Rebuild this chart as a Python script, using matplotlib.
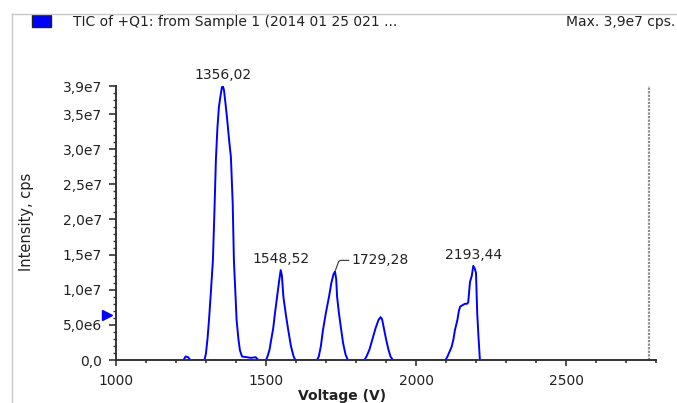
import numpy as np
import matplotlib
matplotlib.use("Agg")
import matplotlib.pyplot as plt
from matplotlib.ticker import FixedLocator, MultipleLocator
from matplotlib.patches import Rectangle
from matplotlib.lines import Line2D
import matplotlib.transforms as mtransforms

# TIC trace (voltage in V, intensity in 1e7 cps)
voltage = [1225, 1232, 1240, 1248, 1295, 1300, 1305, 1310, 1316, 1323, 1328, 1333,
           1338, 1343, 1348, 1353, 1356, 1360, 1365, 1370, 1377, 1383, 1389, 1393,
           1398, 1402, 1408, 1413, 1420, 1436, 1450, 1465, 1475, 1500,
           1505, 1512, 1517, 1524, 1530, 1537, 1543, 1549, 1553, 1558, 1566, 1574,
           1583, 1592, 1598, 1670,
           1676, 1683, 1690, 1700, 1710, 1718, 1725, 1730, 1734, 1737, 1743, 1750,
           1757, 1765, 1773, 1828,
           1835, 1845, 1855, 1865, 1875, 1882, 1887, 1893, 1900, 1908, 1915, 1923, 2098,
           2105, 2112, 2119, 2125, 2130, 2138, 2143, 2147, 2155, 2163, 2170, 2174,
           2180, 2186, 2191, 2196, 2200, 2204, 2208, 2211, 2213]
intensity = [0, 0.05, 0.04, 0, 0, 0.1, 0.3, 0.57, 0.95, 1.42, 2.1, 2.85,
             3.3, 3.6, 3.75, 3.88, 3.9, 3.84, 3.65, 3.45, 3.13, 2.89, 2.23, 1.42,
             0.95, 0.57, 0.3, 0.14, 0.05, 0.04, 0.03, 0.04, 0, 0,
             0.05, 0.15, 0.28, 0.45, 0.67, 0.9, 1.1, 1.28, 1.2, 0.9, 0.65, 0.43,
             0.2, 0.05, 0, 0,
             0.05, 0.2, 0.43, 0.68, 0.9, 1.1, 1.22, 1.26, 1.15, 0.9, 0.67, 0.45,
             0.24, 0.08, 0, 0,
             0.05, 0.15, 0.3, 0.45, 0.57, 0.61, 0.58, 0.45, 0.3, 0.15, 0.05, 0, 0,
             0.05, 0.12, 0.19, 0.3, 0.43, 0.57, 0.7, 0.76, 0.78, 0.8, 0.8, 0.82,
             1.11, 1.2, 1.34, 1.3, 1.24, 0.67, 0.35, 0.14, 0]

peak_voltage = [1356, 1549, 1730, 2191]
peak_labels = ["1356,02", "1548,52", "1729,28", "2193,44"]

ytick_values = [0, 0.5e7, 1.0e7, 1.5e7, 2.0e7, 2.5e7, 3.0e7, 3.5e7, 3.9e7]
ytick_labels = ["0,0", "5,0e6", "1,0e7", "1,5e7", "2,0e7", "2,5e7", "3,0e7", "3,5e7", "3,9e7"]
xtick_values = [1000, 1500, 2000, 2500]

cursor_voltage = 2777
marker_level = 0.64e7

title_text = "TIC of +Q1: from Sample 1 (2014 01 25 021 ..."
max_text = "Max. 3,9e7 cps."

V = np.array(voltage)
I = np.array(intensity) * 1e7

plt.rcParams['font.family'] = ['DejaVu Sans']
txt = "#222222"

fig = plt.figure(figsize=(6.77, 4.03), dpi=100)
ax = fig.add_axes([116 / 677, 1 - 360 / 403, 540 / 677, 274 / 403])

ax.plot(V, I, color="#0000ff", lw=1.4, zorder=2)
ax.plot([cursor_voltage, cursor_voltage], [0, 3.9e7], color="#8c8c8c", lw=1.6,
        ls=(0, (1, 0.6)), zorder=1)

ax.set_xlim(1000, 2800)
ax.set_ylim(0, 3.9e7)

for s in ["top", "right"]:
    ax.spines[s].set_visible(False)
for s in ["left", "bottom"]:
    ax.spines[s].set_color("#333333")
    ax.spines[s].set_linewidth(1.4)
    ax.spines[s].set_zorder(3)

ax.xaxis.set_major_locator(FixedLocator(xtick_values))
ax.xaxis.set_minor_locator(MultipleLocator(100))
ax.yaxis.set_major_locator(FixedLocator(ytick_values))
ax.set_yticklabels(ytick_labels)
ax.yaxis.set_minor_locator(MultipleLocator(1e6))

ax.tick_params(axis="x", which="major", direction="out", length=4, width=1.2,
               pad=6, labelsize=10, colors="#333333", labelcolor=txt)
ax.tick_params(axis="x", which="minor", direction="out", length=2, width=1.2,
               colors="#333333")
ax.tick_params(axis="y", which="major", direction="out", length=5, width=1.2,
               pad=5, labelsize=10, colors="#333333", labelcolor=txt)
ax.tick_params(axis="y", which="minor", direction="out", length=2.5, width=1.0,
               colors="#333333")

ax.set_xlabel("Voltage (V)", fontsize=10, fontweight="bold", color=txt)
ax.xaxis.set_label_coords(0.4185, -0.105)
ax.set_ylabel("Intensity, cps", fontsize=10.5, color=txt)
ax.yaxis.set_label_coords(-0.152, 0.504)

# peak labels
for pv, lab in zip(peak_voltage, peak_labels):
    pi = I[list(voltage).index(pv)]
    if lab == "1729,28":
        ax.annotate(lab, xy=(pv, pi), xytext=(12, 8), textcoords="offset points",
                    ha="left", va="center", fontsize=10, color=txt,
                    arrowprops=dict(arrowstyle="-", color="#333333", lw=0.8,
                                    shrinkA=0, shrinkB=1,
                                    connectionstyle="angle,angleA=0,angleB=70,rad=2"))
    else:
        ax.annotate(lab, xy=(pv, pi), xytext=(0, 3), textcoords="offset points",
                    ha="center", va="bottom", fontsize=10, color=txt)

# blue cursor triangle left of the y axis
trans = mtransforms.blended_transform_factory(ax.transAxes, ax.transData)
ax.plot([-0.016], [marker_level], marker=">", ms=6.5, color="#0000ff",
        transform=trans, clip_on=False, zorder=4)

# panel frame and header
fig.add_artist(Line2D([12 / 677, 12 / 677], [0, 1 - 14 / 403], color="#c8c8c8",
                      lw=1, transform=fig.transFigure))
fig.add_artist(Line2D([12 / 677, 1], [1 - 14 / 403, 1 - 14 / 403], color="#c8c8c8",
                      lw=1, transform=fig.transFigure))
fig.add_artist(Rectangle((32 / 677, 1 - 27 / 403), 19 / 677, 12 / 403,
                         facecolor="#0000ff", edgecolor="#202020", lw=1,
                         transform=fig.transFigure))
fig.text(73 / 677, 1 - 22 / 403, title_text, fontsize=10, color=txt,
         ha="left", va="center")
fig.text(675 / 677, 1 - 22 / 403, max_text, fontsize=10, color=txt,
         ha="right", va="center")

fig.savefig("out.png", dpi=100)
